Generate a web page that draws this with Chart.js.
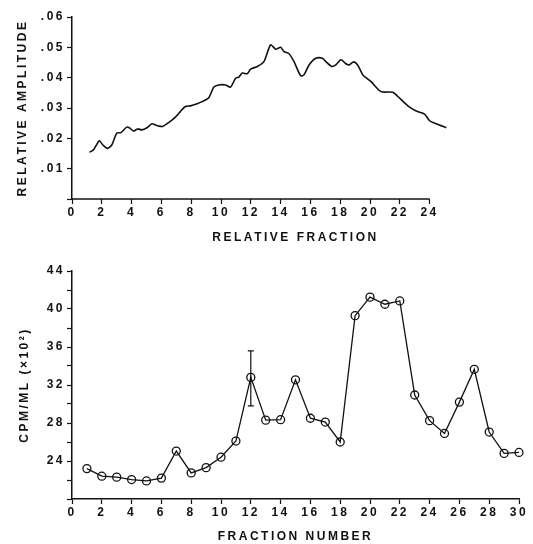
<!DOCTYPE html>
<html>
<head>
<meta charset="utf-8">
<script src="https://cdn.jsdelivr.net/npm/chart.js@4.4.1/dist/chart.umd.min.js"></script>
<style>
  body { margin: 0; background: #fff; }
  .box { position: relative; width: 533px; }
</style>
</head>
<body>
<div class="box" style="height:256px"><canvas id="ampChart"></canvas></div>
<div class="box" style="height:288px"><canvas id="cpmChart"></canvas></div>
<script>
// top panel: relative amplitude trace
const ampX = [1.17, 1.44, 1.84, 2.07, 2.38, 2.67, 3.0, 3.28, 3.68, 3.9, 4.13, 4.4, 4.69, 5.03, 5.37, 5.7,
  6.08, 6.49, 6.94, 7.27, 7.61, 7.95, 8.4, 8.73, 9.18, 9.52, 9.85, 10.3, 10.64, 10.98, 11.2, 11.43,
  11.76, 11.99, 12.44, 12.88, 13.33, 13.67, 14.0, 14.23, 14.57, 14.9, 15.35, 15.58, 15.91, 16.36,
  16.81, 17.04, 17.42, 17.71, 18.05, 18.38, 18.6, 18.9, 19.17, 19.51, 20.07, 20.74, 21.53, 21.87,
  22.54, 23.1, 23.66, 24.0, 24.44, 25.12];
const ampY = [0.0154, 0.0162, 0.0192, 0.0178, 0.0167, 0.0178, 0.0217, 0.0219, 0.0237, 0.0233, 0.0224,
  0.0231, 0.0228, 0.0235, 0.0248, 0.0242, 0.0239, 0.0252, 0.027, 0.0288, 0.0305, 0.0307, 0.0314,
  0.0321, 0.0334, 0.0369, 0.0376, 0.0376, 0.0369, 0.0398, 0.0402, 0.0415, 0.0413, 0.0428, 0.0437,
  0.0453, 0.0508, 0.0494, 0.05, 0.0486, 0.0479, 0.0453, 0.0406, 0.041, 0.0442, 0.0464, 0.0464,
  0.0453, 0.0437, 0.0442, 0.0459, 0.0446, 0.0442, 0.0452, 0.0442, 0.041, 0.0387, 0.0354, 0.0352,
  0.0338, 0.0307, 0.029, 0.028, 0.0258, 0.0248, 0.0235];

// bottom panel: counts per fraction
const fractions = [1, 2, 3, 4, 5, 6, 7, 8, 9, 10, 11, 12, 13, 14, 15, 16, 17, 18, 19, 20,
  21, 22, 23, 24, 25, 26, 27, 28, 29, 30];
const cpm = [23.2, 22.4, 22.3, 22.05, 21.9, 22.2, 25.05, 22.75, 23.3, 24.4, 26.1, 32.8, 28.3, 28.35,
  32.55, 28.5, 28.1, 26.0, 39.3, 41.25, 40.5, 40.85, 30.95, 28.25, 26.9, 30.2, 33.65, 27.05, 24.8, 24.9];
const errX = [12];
const errLow = [29.8];
const errHigh = [35.6];

const ampTickMax = 24;
const ink = '#111';
const FONT = { family: "'Liberation Sans', Arial, sans-serif", weight: 'bold', size: 12 };

const spacing = {
  id: 'spacing',
  beforeLayout(chart) { chart.ctx.letterSpacing = '2.5px'; },
  beforeDraw(chart) { chart.ctx.letterSpacing = '2.5px'; }
};

// x axis line of the top panel only runs to the last labelled tick
const shortAxis = {
  id: 'shortAxis',
  afterDatasetsDraw(chart) {
    if (chart.canvas.id !== 'ampChart') return;
    const x = chart.scales.x, y = chart.scales.y;
    const ctx = chart.ctx;
    ctx.save();
    ctx.strokeStyle = ink;
    ctx.lineWidth = 1.5;
    ctx.beginPath();
    ctx.moveTo(x.getPixelForValue(0), y.getPixelForValue(0));
    ctx.lineTo(x.getPixelForValue(ampTickMax), y.getPixelForValue(0));
    ctx.stroke();
    ctx.restore();
  }
};

const errorBars = {
  id: 'errorBars',
  afterDatasetsDraw(chart) {
    if (chart.canvas.id !== 'cpmChart') return;
    const x = chart.scales.x, y = chart.scales.y;
    const ctx = chart.ctx;
    ctx.save();
    ctx.strokeStyle = ink;
    ctx.lineWidth = 1.2;
    errX.forEach((v, i) => {
      const px = x.getPixelForValue(v);
      const top = y.getPixelForValue(errHigh[i]);
      const bot = y.getPixelForValue(errLow[i]);
      ctx.beginPath();
      ctx.moveTo(px, top); ctx.lineTo(px, bot);
      ctx.moveTo(px - 3, top); ctx.lineTo(px + 3, top);
      ctx.moveTo(px - 3, bot); ctx.lineTo(px + 3, bot);
      ctx.stroke();
    });
    ctx.restore();
  }
};

function axisX(max, titleText, hideAbove, height, titlePad) {
  return {
    type: 'linear',
    min: 0,
    max: max,
    afterFit(s) { s.height = height; },
    border: { display: hideAbove == null, color: ink, width: 1.5 },
    grid: {
      drawOnChartArea: false,
      tickLength: 5,
      tickWidth: 1.2,
      color: c => (hideAbove != null && c.tick && c.tick.value > hideAbove) ? 'rgba(0,0,0,0)' : ink
    },
    ticks: {
      stepSize: 2,
      color: ink,
      font: FONT,
      padding: 1,
      maxRotation: 0,
      autoSkip: false,
      callback: v => (hideAbove != null && v > hideAbove) ? '' : String(v)
    },
    title: { display: true, text: titleText, color: ink, font: FONT, padding: { top: 0, bottom: titlePad } }
  };
}

new Chart(document.getElementById('ampChart'), {
  type: 'line',
  data: {
    datasets: [{
      data: ampX.map((x, i) => ({ x: x, y: ampY[i] })),
      borderColor: ink,
      borderWidth: 1.6,
      pointRadius: 0,
      tension: 0.25,
      fill: false,
      clip: false
    }]
  },
  options: {
    responsive: true,
    maintainAspectRatio: false,
    animation: false,
    layout: { padding: { top: 17, right: 14, bottom: 0, left: 0 } },
    plugins: { legend: { display: false }, tooltip: { enabled: false } },
    scales: {
      x: axisX(30, 'RELATIVE FRACTION', ampTickMax, 57, 11),
      y: {
        min: 0,
        max: 0.06,
        afterFit(s) { s.width = 72; },
        border: { color: ink, width: 1.5 },
        grid: { drawOnChartArea: false, tickLength: 5, tickWidth: 1.2, color: ink },
        ticks: {
          stepSize: 0.01,
          color: ink,
          font: FONT,
          padding: 2,
          callback: v => v < 0.005 ? '' : '.0' + Math.round(v * 100)
        },
        title: { display: true, text: 'RELATIVE AMPLITUDE', color: ink, font: FONT, padding: { top: 15, bottom: 0 } }
      }
    }
  },
  plugins: [spacing, shortAxis]
});

new Chart(document.getElementById('cpmChart'), {
  type: 'line',
  data: {
    datasets: [{
      data: fractions.map((f, i) => ({ x: f, y: cpm[i] })),
      borderColor: ink,
      borderWidth: 1.3,
      pointRadius: 4,
      pointBorderWidth: 1.3,
      pointBorderColor: ink,
      pointBackgroundColor: 'rgba(0,0,0,0)',
      tension: 0,
      fill: false,
      clip: false
    }]
  },
  options: {
    responsive: true,
    maintainAspectRatio: false,
    animation: false,
    layout: { padding: { top: 15, right: 14, bottom: 0, left: 0 } },
    plugins: { legend: { display: false }, tooltip: { enabled: false } },
    scales: {
      x: axisX(30, 'FRACTION NUMBER', null, 45, 0),
      y: {
        min: 20,
        max: 44,
        afterFit(s) { s.width = 72; },
        border: { color: ink, width: 1.5 },
        grid: { drawOnChartArea: false, tickLength: 5, tickWidth: 1.2, color: ink },
        ticks: {
          stepSize: 2,
          color: ink,
          font: FONT,
          padding: 2,
          callback: v => (v % 4 === 0 && v > 20) ? String(v) : ''
        },
        title: { display: true, text: 'CPM/ML (×10²)', color: ink, font: FONT, padding: { top: 17, bottom: 0 } }
      }
    }
  },
  plugins: [spacing, errorBars]
});
</script>
</body>
</html>
